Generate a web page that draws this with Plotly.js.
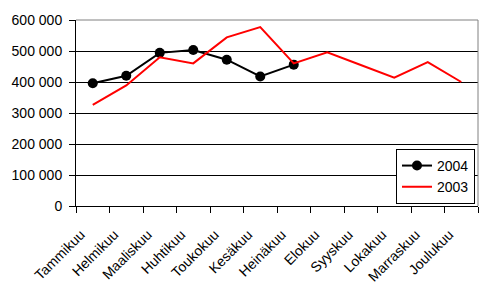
<!DOCTYPE html>
<html><head><meta charset="utf-8">
<script src="https://cdn.plot.ly/plotly-3.0.1.min.js"></script>
<style>body{margin:0;background:#fff}#c{width:497px;height:290px}</style>
</head><body><div id="c"></div>
<script>
const months = ["Tammikuu","Helmikuu","Maaliskuu","Huhtikuu","Toukokuu","Kesäkuu","Heinäkuu","Elokuu","Syyskuu","Lokakuu","Marraskuu","Joulukuu"];
const months2004 = months.slice(0,7);
const values2004 = [396000,420000,494000,503000,472000,418000,456000];
const values2003 = [326000,389000,480000,460000,544000,577000,460000,496000,455000,414000,464000,400000];
const yTicks = [0,100000,200000,300000,400000,500000,600000];
const yTickText = ["0","100 000","200 000","300 000","400 000","500 000","600 000"];

const font = {family:"Liberation Sans, Arial, sans-serif", size:14, color:"#000"};
const data = [
  {x:months2004, y:values2004, name:"2004", type:"scatter", mode:"lines+markers",
   line:{color:"#000", width:2}, marker:{color:"#000", size:10, symbol:"circle"}},
  {x:months, y:values2003, name:"2003", type:"scatter", mode:"lines",
   line:{color:"#ff0000", width:2}}
];
const layout = {
  width:497, height:290,
  margin:{l:76, r:19, t:20, b:84, pad:0},
  paper_bgcolor:"#fff", plot_bgcolor:"#fff",
  font:font,
  showlegend:true,
  legend:{x:0.9925, xanchor:"right", y:0.011, yanchor:"bottom",
    bgcolor:"#fff", bordercolor:"#000", borderwidth:1, font:font,
    itemwidth:30, tracegroupgap:0},
  xaxis:{type:"category", categoryorder:"array", categoryarray:months,
    range:[-0.5,11.5], showgrid:false, zeroline:false,
    showline:true, linecolor:"#000", linewidth:1,
    ticks:"outside", tickson:"boundaries", ticklen:6, tickcolor:"#000",
    tickangle:-45, tickfont:font, automargin:false, fixedrange:true,
    ticklabelstandoff:14, ticklabelshift:-12},
  yaxis:{range:[0,600000], tickvals:yTicks, ticktext:yTickText,
    showgrid:true, gridcolor:"#000", gridwidth:1, zeroline:false,
    showline:true, linecolor:"#000", linewidth:1,
    ticks:"outside", ticklen:6, tickcolor:"#000",
    tickfont:font, automargin:false, fixedrange:true,
    ticklabelstandoff:4},
  shapes:[
    {type:"line", xref:"paper", yref:"paper", x0:0, x1:1, y0:1, y1:1, line:{color:"#808080", width:1}, layer:"above"},
    {type:"line", xref:"paper", yref:"paper", x0:1, x1:1, y0:0, y1:1, line:{color:"#808080", width:1}, layer:"above"}
  ]
};
Plotly.newPlot("c", data, layout, {displayModeBar:false, staticPlot:true});
</script></body></html>
